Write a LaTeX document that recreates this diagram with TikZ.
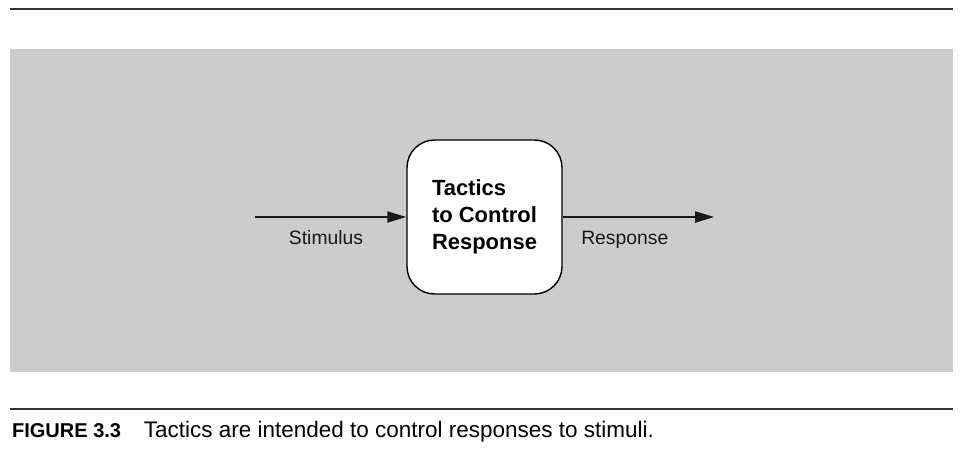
\documentclass[tikz,border=0pt]{standalone}
\usepackage{fontspec}
\setmainfont{Liberation Sans}
\usetikzlibrary{arrows.meta,positioning}

\begin{document}
\begin{tikzpicture}[x=0.02cm, y=-0.02cm, >={Triangle[length=0.38cm, width=0.22cm]}, node distance=3.03cm,
    tactic/.style={draw, line width=0.8pt, fill=white, rounded corners=0.55cm, minimum width=3.1cm, minimum height=3.08cm,
                   align=left, font=\bfseries\fontsize{12.5}{15.4}\selectfont},
    sig/.style={font=\fontsize{11}{13}\selectfont},
    flow/.style={->, line width=1.1pt, black!90},
    rule/.style={line width=1.1pt, black!80}]
    \useasboundingbox (0,0) rectangle (964,450);

    \coordinate (tl) at (10,9);     \coordinate (tr) at (953,9);
    \coordinate (bl) at (10,409);   \coordinate (br) at (953,409);
    \draw[rule] (tl) -- (tr);
    \fill[gray!40] (10,49) rectangle (953,372);
    \draw[rule, line width=0.9pt] (bl) -- (br);

    \node[tactic]                 (ctrl)  at (484.5,217)     {Tactics\\to Control\\Response};
    \coordinate[left=of ctrl]     (stim);
    \coordinate[right=of ctrl]    (resp);

    \path   (stim)  edge  [flow]  node[sig, below=0.14cm, pos=0.47]  {Stimulus}  (ctrl)
            (ctrl)  edge  [flow]  node[sig, below=0.14cm, pos=0.41]  {Response}  (resp);

    \node[font=\bfseries\fontsize{11.4}{14}\selectfont, inner sep=0pt, anchor=base west] (fignum) at (11.7,437.7) {FIGURE 3.3};
    \node[font=\fontsize{12.8}{15}\selectfont, inner sep=0pt, base right=0.44cm of fignum] (figtext)
        {Tactics are intended to control responses to stimuli.};
\end{tikzpicture}
\end{document}
